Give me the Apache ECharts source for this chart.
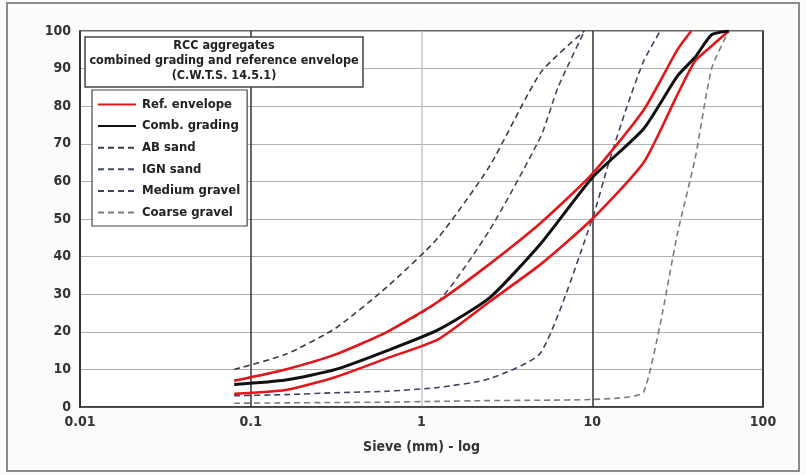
<!DOCTYPE html>
<html>
<head>
<meta charset="utf-8">
<script src="https://cdn.jsdelivr.net/npm/echarts@6/dist/echarts.min.js"></script>
<style>
html,body{margin:0;padding:0;background:#fbfbfa;}
#c{width:806px;height:475px;}
</style>
</head>
<body>
<div id="c"></div>
<script>
// Sieve sizes (mm) and percent passing
const xTicks = [0.01, 0.1, 1, 10, 100];
const yTicks = [0, 10, 20, 30, 40, 50, 60, 70, 80, 90, 100];

const refUpper = [[0.08,7],[0.16,10],[0.315,14],[0.63,20],[1.25,28],[2.5,38],[5,49],[10,62],[20,79],[31.5,95],[38,100]];
const refLower = [[0.08,3.5],[0.16,4.5],[0.315,8],[0.63,13],[1.25,18],[2.5,28],[5,38],[10,50],[20,65],[31.5,83],[40,92],[50,96],[63,100]];
const combGrading = [[0.08,6],[0.16,7.2],[0.315,10],[0.63,15],[1.25,20.5],[2.5,29],[5,43.5],[10,61],[20,74],[31.5,88],[40,93],[50,99],[63,100]];
const abSand = [[0.08,10],[0.16,14],[0.315,21],[0.63,32],[1.25,45],[2.5,64],[5,89],[9,100]];
const ignSand = [[0.08,7],[0.16,10],[0.315,14],[0.63,20],[1.25,28],[2.5,47],[5,72],[6.3,85],[9,100]];
const mediumGravel = [[0.08,3],[0.16,3.3],[0.315,3.8],[0.63,4.2],[1.25,5.2],[2.5,7.5],[5,14.5],[10,50],[12.5,65],[16,80],[20,92],[25,100]];
const coarseGravel = [[0.08,1],[0.16,1.1],[0.315,1.2],[0.63,1.3],[1.25,1.5],[2.5,1.7],[5,1.8],[10,2],[16,2.6],[20,4],[25,22],[31.5,46],[40,66],[50,90],[63,100]];

const FONT = '"Liberation Sans Narrow","DejaVu Sans Condensed","Arial Narrow",sans-serif';
const RED = '#e3161b';
const DASH = [6, 4];

function dashed(name, data, color) {
  return {
    name: name, type: 'line', data: data, showSymbol: false, symbol: 'none',
    smooth: 0.2, lineStyle: {color: color, width: 1.6, type: DASH}, itemStyle: {color: color}, z: 2
  };
}

const chart = echarts.init(document.getElementById('c'), null, {renderer: 'canvas'});
chart.setOption({
  backgroundColor: '#fbfbfa',
  animation: false,
  grid: {left: 80, top: 31, width: 683, height: 376, show: true, backgroundColor: '#ffffff', borderColor: '#333', borderWidth: 1.5},
  xAxis: {
    type: 'log', logBase: 10, min: xTicks[0], max: xTicks[xTicks.length - 1],
    name: 'Sieve (mm) - log', nameLocation: 'middle', nameGap: 33,
    nameTextStyle: {fontFamily: FONT, fontWeight: 'bold', fontSize: 14, color: '#333'},
    axisLine: {lineStyle: {color: '#333', width: 1.5}},
    axisTick: {show: false},
    axisLabel: {fontFamily: FONT, fontWeight: 'bold', fontSize: 14, color: '#333', margin: 8,
      formatter: function (v) { return String(v); }},
    splitLine: {show: true, lineStyle: {color: ['#333', '#333', '#c4c4c4', '#333', '#333'], width: 1.5}},
    minorSplitLine: {show: false}
  },
  yAxis: {
    type: 'value', min: yTicks[0], max: yTicks[yTicks.length - 1], interval: 10,
    axisLine: {show: true, lineStyle: {color: '#333', width: 1.5}},
    axisTick: {show: false},
    axisLabel: {fontFamily: FONT, fontWeight: 'bold', fontSize: 14, color: '#333', margin: 9},
    splitLine: {show: true, lineStyle: {color: '#b0b0b0', width: 1.2}}
  },
  legend: {
    orient: 'vertical', left: 92, top: 90,
    padding: [8, 7, 7, 5], itemGap: 8.6, itemWidth: 38, itemHeight: 14,
    backgroundColor: '#ffffff', borderColor: '#444', borderWidth: 1.2,
    itemStyle: {opacity: 0},
    textStyle: {fontFamily: FONT, fontWeight: 'bold', fontSize: 13, color: '#222', padding: [0, 0, 0, 1]},
    data: ['Ref. envelope', 'Comb. grading', 'AB sand', 'IGN sand', 'Medium gravel', 'Coarse gravel']
  },
  graphic: [
    {type: 'rect', x: 7, y: 3, shape: {x: 0, y: 0, width: 792, height: 468}, style: {fill: 'none', stroke: '#8a8a8a', lineWidth: 2}, silent: true, z: 100},
    {type: 'rect', x: 85, y: 37, shape: {x: 0, y: 0, width: 278, height: 50}, style: {fill: '#ffffff', stroke: '#444', lineWidth: 1.5}, z: 50},
    {type: 'text', x: 224, y: 38, z: 51,
      style: {text: 'RCC aggregates\ncombined grading and reference envelope\n(C.W.T.S. 14.5.1)',
        textAlign: 'center', textVerticalAlign: 'top', font: 'bold 12.5px ' + FONT, fill: '#222', lineHeight: 15}}
  ],
  series: [
    dashed('AB sand', abSand, '#3a3e4c'),
    dashed('IGN sand', ignSand, '#414a63'),
    dashed('Medium gravel', mediumGravel, '#3b4461'),
    dashed('Coarse gravel', coarseGravel, '#7a7c84'),
    {name: 'Ref. envelope', type: 'line', data: refUpper, showSymbol: false, symbol: 'none', smooth: 0.2,
      lineStyle: {color: RED, width: 2.6}, itemStyle: {color: RED}, z: 3},
    {name: 'Ref. envelope', type: 'line', data: refLower, showSymbol: false, symbol: 'none', smooth: 0.2,
      lineStyle: {color: RED, width: 2.6}, itemStyle: {color: RED}, z: 3},
    {name: 'Comb. grading', type: 'line', data: combGrading, showSymbol: false, symbol: 'none', smooth: 0.2,
      lineStyle: {color: '#111', width: 3}, itemStyle: {color: '#111'}, z: 4}
  ]
});
</script>
</body>
</html>
